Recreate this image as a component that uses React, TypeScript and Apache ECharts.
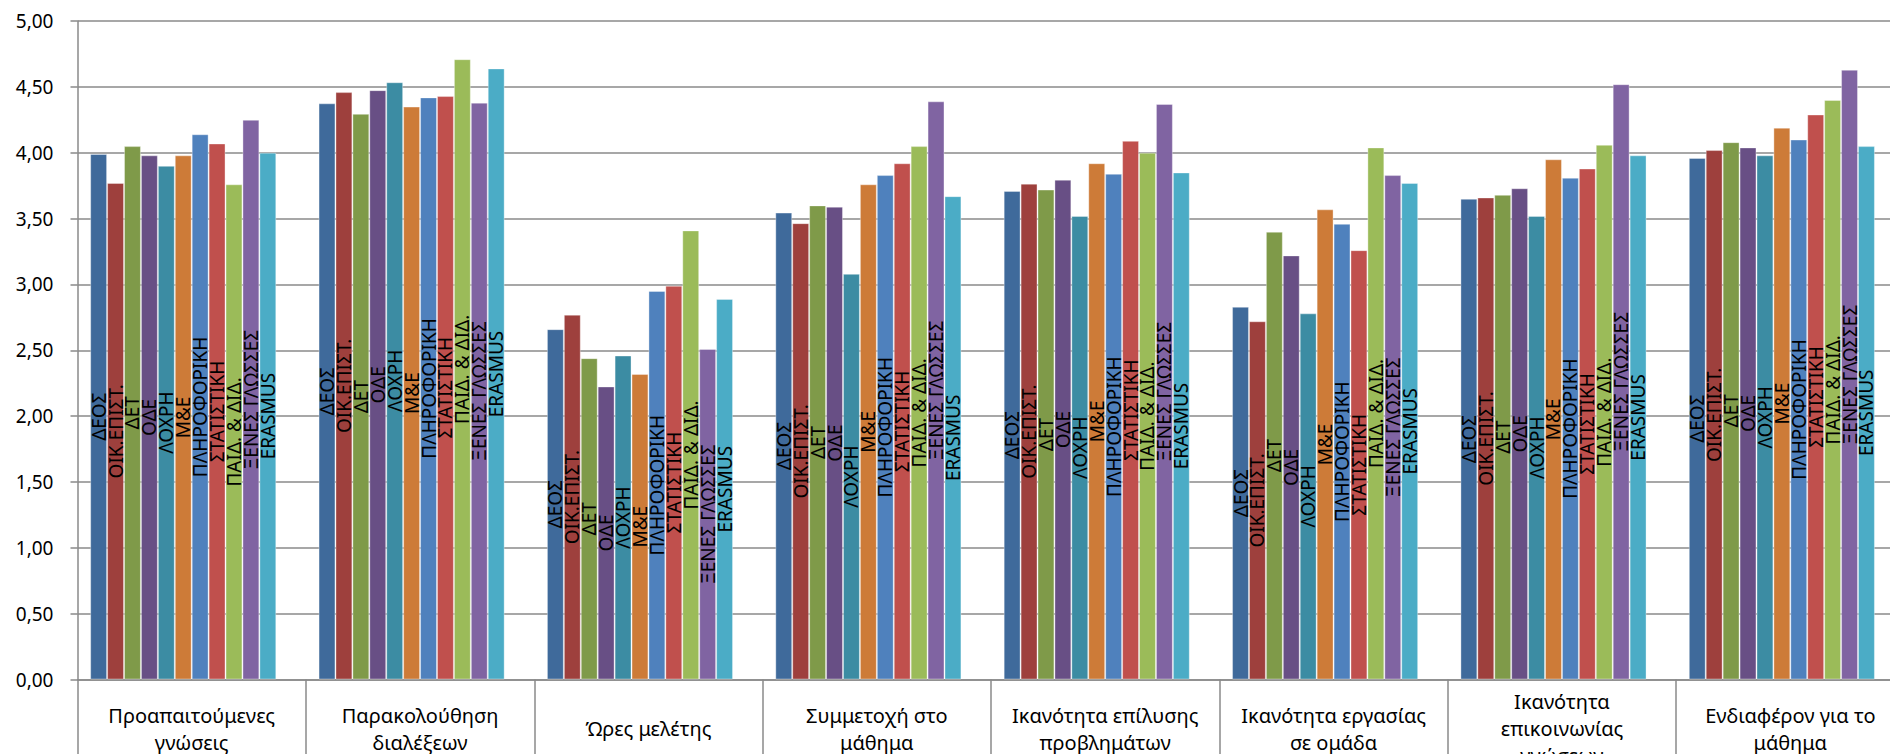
import React, { useEffect, useRef } from "react";
import * as echarts from "echarts";

const categories = [
  "Προαπαιτούμενες\nγνώσεις",
  "Παρακολούθηση\nδιαλέξεων",
  "Ώρες μελέτης",
  "Συμμετοχή στο\nμάθημα",
  "Ικανότητα επίλυσης\nπροβλημάτων",
  "Ικανότητα εργασίας\nσε ομάδα",
  "Ικανότητα\nεπικοινωνίας\nγνώσεων",
  "Ενδιαφέρον για το\nμάθημα",
];

const seriesNames = [
  "ΔΕΟΣ",
  "ΟΙΚ.ΕΠΙΣΤ.",
  "ΔΕΤ",
  "ΟΔΕ",
  "ΛΟΧΡΗ",
  "Μ&Ε",
  "ΠΛΗΡΟΦΟΡΙΚΗ",
  "ΣΤΑΤΙΣΤΙΚΗ",
  "ΠΑΙΔ. & ΔΙΔ.",
  "ΞΕΝΕΣ ΓΛΩΣΣΕΣ",
  "ERASMUS",
];

const deos = [3.99, 4.375, 2.66, 3.545, 3.71, 2.83, 3.65, 3.96];
const oikEpist = [3.77, 4.46, 2.77, 3.465, 3.765, 2.72, 3.66, 4.02];
const det = [4.05, 4.295, 2.44, 3.6, 3.72, 3.4, 3.68, 4.08];
const ode = [3.98, 4.475, 2.225, 3.59, 3.795, 3.22, 3.73, 4.04];
const loxri = [3.9, 4.535, 2.46, 3.08, 3.52, 2.78, 3.52, 3.98];
const me = [3.98, 4.35, 2.32, 3.76, 3.92, 3.57, 3.95, 4.19];
const pliroforiki = [4.14, 4.42, 2.95, 3.83, 3.84, 3.46, 3.81, 4.1];
const statistiki = [4.07, 4.43, 2.99, 3.92, 4.09, 3.26, 3.88, 4.29];
const paidDid = [3.76, 4.71, 3.41, 4.05, 4.0, 4.04, 4.06, 4.4];
const ksenesGlosses = [4.25, 4.38, 2.51, 4.39, 4.37, 3.83, 4.52, 4.63];
const erasmus = [4.0, 4.64, 2.89, 3.67, 3.85, 3.77, 3.98, 4.05];

const seriesValues = [
  deos,
  oikEpist,
  det,
  ode,
  loxri,
  me,
  pliroforiki,
  statistiki,
  paidDid,
  ksenesGlosses,
  erasmus,
];

const colors = [
  "#3F6A9B",
  "#9E403D",
  "#7F9A49",
  "#684F85",
  "#3C8CA3",
  "#CD7B38",
  "#4F81BD",
  "#C0504D",
  "#9BBB59",
  "#8064A2",
  "#4BACC6",
];

const yTicks = { min: 0, max: 5, interval: 0.5 };

const FONT = "'Noto Sans', sans-serif";
const GRID_COLOR = "#8A8A8A";

export default function App() {
  const ref = useRef<HTMLDivElement>(null);

  useEffect(() => {
    if (!ref.current) return;
    const chart = echarts.init(ref.current, undefined, { renderer: "svg" });

    const series: any[] = seriesNames.map((name, i) => ({
      type: "bar",
      name,
      data: seriesValues[i],
      barGap: "0%",
      barCategoryGap: "11.1%",
      itemStyle: {
        color: colors[i],
        borderColor: "rgba(255,255,255,0.35)",
        borderWidth: 1,
      },
      label: {
        show: true,
        position: "inside",
        rotate: 90,
        formatter: "{a}",
        color: "#000",
        fontFamily: FONT,
        fontSize: 19,
        textBorderWidth: 0,
      },
    }));
    // empty slot reserved like in the original (12th position)
    series.push({
      type: "bar",
      name: "",
      data: categories.map(() => null),
      barGap: "0%",
      barCategoryGap: "11.1%",
      label: { show: false },
    });

    chart.setOption({
      animation: false,
      backgroundColor: "#fff",
      grid: {
        left: 77.5,
        top: 21,
        width: 1827,
        height: 658.5,
        containLabel: false,
        outerBoundsMode: "none",
      },
      xAxis: {
        type: "category",
        data: categories,
        axisLine: { show: true, lineStyle: { color: GRID_COLOR, width: 1.5 } },
        axisTick: {
          show: true,
          interval: 0,
          length: 90,
          lineStyle: { color: GRID_COLOR, width: 1.5 },
        },
        axisLabel: {
          interval: 0,
          margin: 49,
          verticalAlign: "middle",
          color: "#000",
          fontFamily: FONT,
          fontSize: 20,
          lineHeight: 27,
        },
      },
      yAxis: {
        type: "value",
        min: yTicks.min,
        max: yTicks.max,
        interval: yTicks.interval,
        axisLine: { show: true, lineStyle: { color: GRID_COLOR, width: 1.5 } },
        axisTick: { show: true, length: 7, lineStyle: { color: GRID_COLOR, width: 1.5 } },
        splitLine: { show: true, lineStyle: { color: GRID_COLOR, width: 1.5 } },
        axisLabel: {
          margin: 24,
          color: "#000",
          fontFamily: FONT,
          fontSize: 19,
          formatter: (v: number) => v.toFixed(2).replace(".", ","),
        },
      },
      series,
    });

    return () => chart.dispose();
  }, []);

  return (
    <div
      style={{
        position: "fixed",
        left: 0,
        top: 0,
        width: 1890,
        height: 754,
        overflow: "hidden",
        background: "#fff",
      }}
    >
      <div ref={ref} style={{ width: 1920, height: 754 }} />
    </div>
  );
}
